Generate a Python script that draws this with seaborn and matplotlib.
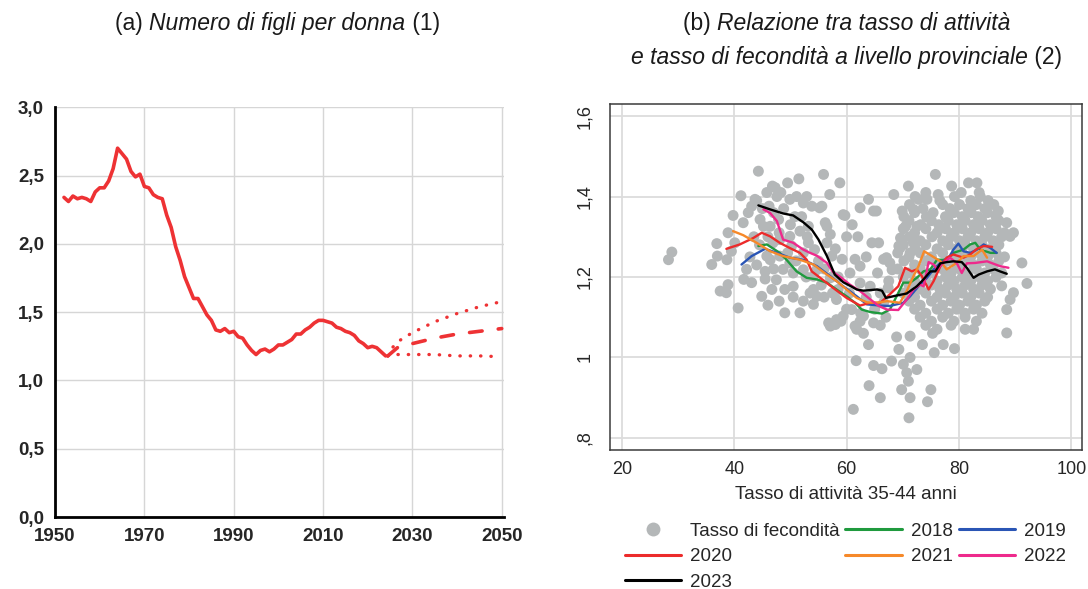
import numpy as np
import pandas as pd
import matplotlib
matplotlib.use("Agg")
import matplotlib.pyplot as plt
import seaborn as sns
from matplotlib.lines import Line2D
from matplotlib.offsetbox import TextArea, HPacker, VPacker, AnchoredOffsetbox

# ---- panel (a): figli per donna ----
anni_storici = [1952, 1953, 1954, 1955, 1956, 1957, 1958, 1959, 1960, 1961, 1962, 1963,
                1964, 1965, 1966, 1967, 1968, 1969, 1970, 1971, 1972, 1973, 1974, 1975,
                1976, 1977, 1978, 1979, 1980, 1981, 1982, 1983, 1984, 1985, 1986, 1987,
                1988, 1989, 1990, 1991, 1992, 1993, 1994, 1995, 1996, 1997, 1998, 1999,
                2000, 2001, 2002, 2003, 2004, 2005, 2006, 2007, 2008, 2009, 2010, 2011,
                2012, 2013, 2014, 2015, 2016, 2017, 2018, 2019, 2020, 2021, 2022, 2023, 2024]
figli_storici = [2.34, 2.31, 2.35, 2.33, 2.34, 2.33, 2.31, 2.38, 2.41, 2.41, 2.46, 2.55,
                 2.70, 2.66, 2.62, 2.53, 2.49, 2.51, 2.42, 2.41, 2.36, 2.34, 2.33, 2.21,
                 2.12, 1.98, 1.88, 1.76, 1.68, 1.60, 1.60, 1.54, 1.48, 1.44, 1.37, 1.36,
                 1.38, 1.35, 1.36, 1.32, 1.31, 1.26, 1.22, 1.19, 1.22, 1.23, 1.21, 1.23,
                 1.26, 1.26, 1.28, 1.30, 1.34, 1.34, 1.37, 1.39, 1.42, 1.44, 1.44, 1.43,
                 1.42, 1.39, 1.38, 1.36, 1.35, 1.33, 1.29, 1.27, 1.24, 1.25, 1.24, 1.21, 1.18]

anni_centrale = [2024.5, 2027, 2030, 2035, 2040, 2045, 2050]
figli_centrale = [1.18, 1.25, 1.27, 1.31, 1.34, 1.36, 1.38]
anni_alto = [2024.5, 2025.5, 2027, 2030, 2035, 2040, 2045, 2049]
figli_alto = [1.18, 1.24, 1.29, 1.35, 1.43, 1.49, 1.54, 1.57]
anni_basso = [2024.5, 2025.5, 2027, 2030, 2035, 2040, 2045, 2049]
figli_basso = [1.18, 1.19, 1.19, 1.19, 1.19, 1.18, 1.18, 1.175]

# ---- panel (b): tasso di fecondita' provinciale ----
fec_sinistra = [
    (28.3, 1.243), (28.9, 1.262), (36.0, 1.231), (36.9, 1.283), (37.0, 1.252), (37.5, 1.165),
    (38.6, 1.161), (38.7, 1.243), (38.9, 1.31), (38.9, 1.181), (39.5, 1.264), (39.8, 1.353),
    (40.1, 1.285), (40.7, 1.123), (41.2, 1.402), (41.6, 1.335), (41.7, 1.194), (42.2, 1.219),
    (43.1, 1.186), (43.1, 1.376), (43.7, 1.393), (44.3, 1.463), (44.6, 1.343), (44.9, 1.152),
    (45.2, 1.326), (45.5, 1.214), (45.5, 1.195), (45.8, 1.41), (45.8, 1.252), (46.2, 1.376),
    (46.4, 1.243), (46.7, 1.169), (46.8, 1.426), (46.4, 1.326), (46.9, 1.285), (47.3, 1.422),
    (47.5, 1.193), (47.6, 1.40), (47.9, 1.343), (48.1, 1.293), (48.1, 1.252), (48.3, 1.41),
    (48.7, 1.219), (49.0, 1.169), (49.0, 1.111), (49.5, 1.434), (49.9, 1.393), (49.9, 1.301),
    (49.9, 1.235), (50.2, 1.277), (50.5, 1.21), (50.5, 1.177), (51.1, 1.40), (51.5, 1.444),
    (51.7, 1.314), (51.7, 1.111), (52.3, 1.384), (52.3, 1.26), (52.3, 1.218), (52.3, 1.14),
    (52.9, 1.40), (53.2, 1.326), (53.2, 1.285), (53.8, 1.376), (54.1, 1.202), (54.1, 1.132),
    (54.1, 1.169), (54.3, 1.268), (54.7, 1.152), (54.7, 1.218), (55.2, 1.372), (55.6, 1.376),
    (55.9, 1.455), (56.2, 1.335), (56.5, 1.326), (56.5, 1.285), (56.8, 1.086), (57.0, 1.405),
    (57.1, 1.306), (57.1, 1.198), (57.1, 1.078), (57.4, 1.252), (57.6, 1.202), (58.0, 1.082),
    (58.2, 1.144), (58.2, 1.094), (42.5, 1.36), (44.0, 1.39), (45.0, 1.37), (47.0, 1.36),
    (48.8, 1.37), (50.8, 1.35), (43.5, 1.30), (44.5, 1.28), (46.0, 1.30), (48.0, 1.31),
    (50.0, 1.33), (52.0, 1.35), (53.0, 1.30), (42.8, 1.25), (44.0, 1.23), (47.0, 1.22),
    (49.5, 1.26), (51.0, 1.24), (52.8, 1.20), (55.0, 1.24), (56.0, 1.22), (55.5, 1.18),
    (53.5, 1.16), (50.5, 1.15), (48.0, 1.14), (46.0, 1.13), (56.0, 1.15), (57.5, 1.16),
]
fec_centro = [
    (58.5, 1.169), (58.8, 1.434), (59.2, 1.244), (59.4, 1.355), (59.4, 1.103), (59.7, 1.353),
    (60.6, 1.21), (60.9, 1.119), (61.2, 0.871), (61.5, 1.244), (61.5, 1.078), (61.7, 0.992),
    (61.8, 1.07), (62.4, 1.227), (62.4, 1.372), (62.4, 1.185), (62.4, 1.09), (63.0, 1.103),
    (63.9, 1.393), (63.9, 1.032), (64.0, 0.93), (64.2, 1.177), (64.5, 1.285), (64.8, 1.364),
    (64.8, 1.086), (64.8, 0.98), (65.3, 1.364), (65.7, 1.285), (66.0, 0.90), (66.3, 0.972),
    (66.6, 1.136), (66.6, 1.244), (67.1, 1.248), (67.4, 1.173), (67.7, 1.235), (68.0, 0.991),
    (68.1, 1.218), (68.4, 1.405), (60.0, 1.12), (62.5, 1.11), (65.0, 1.12), (67.0, 1.10),
    (63.0, 1.06), (66.0, 1.08), (59.0, 1.09), (60.5, 1.16), (63.5, 1.15), (58.5, 1.20),
    (60.0, 1.30), (62.0, 1.30), (61.0, 1.33), (58.0, 1.27), (63.5, 1.25), (65.5, 1.21),
    (67.5, 1.19), (66.0, 1.16),
]
fec_destra = [
    (68.9, 1.051), (69.3, 1.277), (69.3, 1.02), (69.5, 1.272), (69.6, 1.297), (69.8, 0.92),
    (69.9, 1.364), (70.1, 0.983), (70.5, 1.326), (70.7, 0.962), (71.0, 1.426), (71.0, 0.941),
    (71.1, 0.85), (71.3, 1.26), (71.3, 1.0), (71.3, 1.053), (71.3, 0.90), (71.9, 1.368),
    (71.9, 1.285), (72.5, 1.326), (72.5, 0.97), (72.8, 1.393), (73.5, 1.032), (74.3, 1.393),
    (74.4, 0.89), (75.0, 0.92), (75.3, 1.06), (75.6, 1.012), (75.8, 1.455), (76.3, 1.405),
    (77.2, 1.032), (78.7, 1.426), (79.2, 1.022), (81.7, 1.434), (82.6, 1.07), (83.2, 1.434),
    (83.8, 1.40), (87.0, 1.364), (88.5, 1.335), (88.5, 1.061), (88.5, 1.119), (89.1, 1.301),
    (89.1, 1.144), (89.7, 1.31), (89.7, 1.161), (91.2, 1.235), (92.1, 1.184), (87.6, 1.178),
    (72.2, 1.40), (74.1, 1.41), (76.6, 1.39), (79.2, 1.40), (80.4, 1.41), (82.1, 1.39), (83.6, 1.41), (85.2, 1.39),
    (71.2, 1.38), (73.6, 1.37), (77.1, 1.38), (78.4, 1.37), (80.1, 1.38), (81.6, 1.37), (83.1, 1.38), (84.6, 1.37), (86.2, 1.38),
    (70.2, 1.35), (72.1, 1.36), (74.2, 1.35), (75.4, 1.36), (77.6, 1.35), (79.1, 1.36), (80.6, 1.35), (82.2, 1.36), (83.4, 1.35), (85.1, 1.36), (86.6, 1.35),
    (71.1, 1.34), (73.2, 1.33), (75.1, 1.34), (76.4, 1.33), (78.1, 1.34), (79.6, 1.33), (81.1, 1.34), (82.6, 1.33), (84.1, 1.34), (85.6, 1.33), (87.1, 1.34),
    (70.1, 1.32), (72.1, 1.31), (74.1, 1.32), (76.1, 1.31), (77.6, 1.32), (79.1, 1.31), (80.6, 1.32), (82.1, 1.31), (83.6, 1.32), (85.1, 1.31), (86.6, 1.32), (88.1, 1.31),
    (71.2, 1.30), (73.1, 1.29), (75.2, 1.30), (77.1, 1.29), (78.6, 1.30), (80.1, 1.29), (81.6, 1.30), (83.1, 1.29), (84.6, 1.30), (86.1, 1.29), (87.6, 1.30),
    (70.1, 1.28), (72.2, 1.27), (74.1, 1.28), (76.1, 1.27), (78.1, 1.28), (79.6, 1.27), (81.1, 1.28), (82.6, 1.27), (84.1, 1.28), (85.6, 1.27), (87.1, 1.28),
    (69.1, 1.26), (71.1, 1.25), (73.1, 1.26), (75.1, 1.25), (77.1, 1.26), (79.1, 1.25), (80.6, 1.26), (82.1, 1.25), (83.6, 1.26), (85.1, 1.25), (86.6, 1.26), (88.1, 1.25),
    (70.2, 1.24), (72.1, 1.23), (74.1, 1.24), (76.1, 1.23), (78.1, 1.24), (79.6, 1.23), (81.1, 1.24), (82.6, 1.23), (84.1, 1.24), (85.6, 1.23), (87.1, 1.24),
    (69.1, 1.22), (71.1, 1.21), (73.1, 1.22), (75.1, 1.21), (77.1, 1.22), (78.6, 1.21), (80.1, 1.22), (81.6, 1.21), (83.1, 1.22), (84.6, 1.21), (86.1, 1.22), (87.6, 1.21),
    (70.1, 1.20), (72.1, 1.19), (74.1, 1.20), (76.1, 1.19), (77.6, 1.20), (79.1, 1.19), (80.6, 1.20), (82.1, 1.19), (83.6, 1.20), (85.1, 1.19), (86.6, 1.20),
    (71.1, 1.18), (73.1, 1.17), (75.1, 1.18), (76.6, 1.17), (78.1, 1.18), (79.6, 1.17), (81.1, 1.18), (82.6, 1.17), (84.1, 1.18), (85.6, 1.17),
    (70.1, 1.16), (72.1, 1.15), (74.1, 1.16), (76.1, 1.15), (77.6, 1.16), (79.1, 1.15), (80.6, 1.16), (82.1, 1.15), (83.6, 1.16), (85.1, 1.15),
    (71.1, 1.14), (73.1, 1.13), (75.1, 1.14), (77.1, 1.13), (78.6, 1.14), (80.1, 1.13), (81.6, 1.14), (83.1, 1.13), (84.6, 1.14),
    (72.1, 1.12), (74.1, 1.11), (76.1, 1.12), (78.1, 1.11), (79.6, 1.12), (81.1, 1.11), (82.6, 1.12), (84.1, 1.11),
    (73.1, 1.10), (75.1, 1.09), (77.1, 1.10), (79.1, 1.09), (81.1, 1.10), (83.1, 1.09),
    (74.1, 1.08), (76.1, 1.07), (78.6, 1.08), (81.1, 1.07),
]

x_2018 = [44.3, 45.8, 48.1, 49.3, 51.1, 52.9, 54.7, 56.5, 58.2, 60.0, 61.5, 62.7, 64.2, 66.3,
          67.7, 68.9, 70.1, 71.3, 72.5, 73.7, 74.9, 76.1, 77.8, 79.0, 80.8, 82.0, 82.9, 83.8,
          85.6, 86.7]
y_2018 = [1.277, 1.281, 1.26, 1.243, 1.214, 1.198, 1.194, 1.186, 1.169, 1.152, 1.136, 1.119,
          1.113, 1.109, 1.119, 1.152, 1.186, 1.186, 1.198, 1.214, 1.219, 1.243, 1.243, 1.26,
          1.268, 1.281, 1.285, 1.268, 1.26, 1.26]
x_2019 = [41.3, 43.1, 45.5, 47.6, 49.9, 52.3, 54.7, 57.1, 59.4, 61.8, 63.6, 66.0, 67.7, 70.1,
          71.3, 72.8, 74.3, 75.5, 76.7, 78.4, 79.0, 79.9, 80.8, 82.0, 83.2, 84.4, 85.6, 86.7]
y_2019 = [1.231, 1.252, 1.27, 1.26, 1.248, 1.243, 1.227, 1.202, 1.177, 1.152, 1.132, 1.129,
          1.128, 1.136, 1.152, 1.177, 1.198, 1.219, 1.235, 1.252, 1.268, 1.283, 1.264, 1.26,
          1.268, 1.281, 1.272, 1.26]
x_2020 = [38.6, 41.0, 43.4, 44.9, 46.4, 48.1, 49.9, 51.7, 52.9, 53.8, 55.3, 57.6, 60.0, 62.4,
          64.2, 66.0, 67.7, 69.2, 70.4, 71.6, 72.5, 73.4, 74.6, 75.5, 76.7, 77.8, 79.0, 80.8,
          82.0, 83.2, 84.4, 85.9]
y_2020 = [1.27, 1.281, 1.297, 1.31, 1.301, 1.285, 1.272, 1.26, 1.243, 1.214, 1.198, 1.173,
          1.148, 1.129, 1.136, 1.136, 1.157, 1.177, 1.223, 1.214, 1.219, 1.202, 1.169, 1.19,
          1.227, 1.248, 1.256, 1.248, 1.256, 1.27, 1.277, 1.275]
x_2021 = [39.8, 41.6, 44.0, 46.4, 48.7, 51.7, 54.1, 56.5, 58.2, 60.0, 61.8, 63.6, 65.4, 67.2,
          69.5, 70.7, 71.9, 72.8, 73.8, 75.2, 76.7, 77.8, 79.6, 80.8, 82.6, 84.1, 85.0]
y_2021 = [1.314, 1.304, 1.285, 1.264, 1.252, 1.243, 1.231, 1.206, 1.19, 1.169, 1.148, 1.137,
          1.136, 1.14, 1.136, 1.165, 1.202, 1.227, 1.264, 1.252, 1.239, 1.219, 1.235, 1.252,
          1.252, 1.268, 1.248]
x_2022 = [45.2, 46.4, 47.6, 48.7, 50.5, 52.3, 53.5, 54.7, 56.5, 57.6, 59.1, 60.6, 62.4, 63.9,
          65.7, 67.2, 69.2, 70.7, 71.9, 73.1, 73.7, 74.6, 75.5, 76.1, 77.2, 78.4, 79.6, 80.5,
          81.4, 82.9, 85.0, 87.3, 88.8]
y_2022 = [1.368, 1.359, 1.339, 1.293, 1.285, 1.268, 1.26, 1.253, 1.235, 1.212, 1.198, 1.181,
          1.165, 1.148, 1.128, 1.119, 1.118, 1.144, 1.169, 1.181, 1.177, 1.237, 1.231, 1.219,
          1.235, 1.248, 1.235, 1.21, 1.234, 1.235, 1.239, 1.227, 1.223]
x_2023 = [44.3, 46.4, 48.7, 50.5, 52.3, 53.8, 55.0, 56.5, 57.9, 59.4, 60.9, 61.8, 63.0, 65.4,
          66.3, 67.0, 68.9, 70.7, 72.5, 73.7, 74.9, 75.8, 76.7, 77.8, 79.0, 80.5, 81.4, 82.6,
          83.5, 85.0, 86.4, 87.3, 88.5]
y_2023 = [1.378, 1.368, 1.358, 1.353, 1.336, 1.318, 1.293, 1.252, 1.206, 1.187, 1.176, 1.169,
          1.166, 1.169, 1.166, 1.148, 1.154, 1.159, 1.177, 1.194, 1.214, 1.214, 1.234, 1.237,
          1.239, 1.237, 1.223, 1.198, 1.206, 1.214, 1.219, 1.214, 1.208]

anni_curve = ["2018", "2019", "2020", "2021", "2022", "2023"]
colori_curve = ["#1f9a3e", "#2a55b5", "#ec2b2b", "#f6892a", "#ee2a8c", "#000000"]

# ---- style ----
sns.set_theme(style="white")
plt.rcParams["font.family"] = ["Liberation Sans", "DejaVu Sans"]
ROSSO = "#ee3234"
GRIGIO = "#b4b7b8"

fig = plt.figure(figsize=(10.88, 5.89), dpi=100)

# ================= (a) =================
ax1 = fig.add_axes([0.0506, 0.122, 0.4126, 0.696])
sns.lineplot(x=anni_storici, y=figli_storici, ax=ax1, color=ROSSO, lw=2.6,
             estimator=None, sort=False)
sns.lineplot(x=anni_centrale, y=figli_centrale, ax=ax1, color=ROSSO, lw=2.6,
             estimator=None, sort=False)
ax1.lines[-1].set_dashes((3.5, 4.5))
ax1.lines[-1].set_dash_capstyle("round")
for xs, ys in [(anni_alto, figli_alto), (anni_basso, figli_basso)]:
    sns.lineplot(x=xs, y=ys, ax=ax1, color=ROSSO, lw=2.4, estimator=None, sort=False)
    ax1.lines[-1].set_dashes((0.1, 3.0))
    ax1.lines[-1].set_dash_capstyle("round")

ax1.set_xlim(1950, 2050.5)
ax1.set_ylim(0, 3.0)
ax1.set_xticks([1950, 1970, 1990, 2010, 2030, 2050])
ax1.set_yticks([0, 0.5, 1.0, 1.5, 2.0, 2.5, 3.0])
ax1.set_yticklabels([f"{v:.1f}".replace(".", ",") for v in [0, 0.5, 1.0, 1.5, 2.0, 2.5, 3.0]])
ax1.grid(True, color="#d6d6d6", lw=1.0)
ax1.set_axisbelow(True)
for s in ["top", "right"]:
    ax1.spines[s].set_visible(False)
for s in ["left", "bottom"]:
    ax1.spines[s].set_color("black")
    ax1.spines[s].set_linewidth(2.0)
ax1.tick_params(axis="both", direction="out", length=4, width=1.5, color="black",
                labelsize=13.5, pad=4)
for lab in ax1.get_xticklabels() + ax1.get_yticklabels():
    lab.set_fontweight("bold")
ax1.set_xlabel("")
ax1.set_ylabel("")

# ================= (b) =================
ax2 = fig.add_axes([0.5607, 0.236, 0.4338, 0.5874])
punti = pd.DataFrame(fec_sinistra + fec_centro + fec_destra, columns=["attivita", "fecondita"])
sns.scatterplot(data=punti, x="attivita", y="fecondita", ax=ax2, color=GRIGIO, s=62,
                edgecolor="none", linewidth=0, legend=False, zorder=2)

curve = pd.concat([
    pd.DataFrame({"attivita": xs, "fecondita": ys, "anno": a})
    for a, xs, ys in zip(anni_curve,
                         [x_2018, x_2019, x_2020, x_2021, x_2022, x_2023],
                         [y_2018, y_2019, y_2020, y_2021, y_2022, y_2023])
])
sns.lineplot(data=curve, x="attivita", y="fecondita", hue="anno", ax=ax2,
             palette=dict(zip(anni_curve, colori_curve)), estimator=None, sort=False,
             lw=1.7, legend=False, zorder=3)

ax2.set_xlim(17.9, 101.9)
ax2.set_ylim(0.77, 1.63)
ax2.set_xticks([20, 40, 60, 80, 100])
ax2.set_yticks([0.8, 1.0, 1.2, 1.4, 1.6])
ax2.set_yticklabels([",8", "1", "1,2", "1,4", "1,6"], rotation=90, va="center")
ax2.grid(True, color="#dcdcdc", lw=1.3)
ax2.set_axisbelow(True)
for s in ax2.spines.values():
    s.set_color("#3a3a3a")
    s.set_linewidth(1.1)
ax2.tick_params(axis="both", direction="out", length=5, width=1.0, color="#555555",
                labelsize=13, pad=3)
ax2.tick_params(axis="y", pad=7)
ax2.set_xlabel("Tasso di attività 35-44 anni", fontsize=13.5, labelpad=6)
ax2.set_ylabel("")

maniglie = [Line2D([], [], marker="o", ls="none", color=GRIGIO, markersize=10,
                   markeredgewidth=0, label="Tasso di fecondità")]
maniglie += [Line2D([], [], color=c, lw=2.2, label=a) for a, c in zip(anni_curve, colori_curve)]
ordine = [0, 3, 6, 1, 4, 2, 5]
fig.legend(handles=[maniglie[i] for i in ordine], loc="upper left",
           bbox_to_anchor=(0.574, 0.113), ncol=3, frameon=False, fontsize=13.5,
           handlelength=3.0, handletextpad=0.5, columnspacing=0.3, labelspacing=0.45,
           borderpad=0, borderaxespad=0)


# ---- titles with mixed italic ----
def titolo(righe, x, y):
    linee = []
    for parti in righe:
        figli = [TextArea(t, textprops=dict(fontsize=16.5, fontstyle=st, color="#1a1a1a"))
                 for t, st in parti]
        linee.append(HPacker(children=figli, pad=0, sep=0, align="baseline"))
    box = VPacker(children=linee, pad=0, sep=8, align="center")
    ab = AnchoredOffsetbox(loc="upper center", child=box, pad=0, borderpad=0, frameon=False,
                           bbox_to_anchor=(x, y), bbox_transform=fig.transFigure)
    fig.add_artist(ab)


titolo([[("(a) ", "normal"), ("Numero di figli per donna", "italic"), (" (1)", "normal")]],
       0.255, 0.98)
titolo([[("(b) ", "normal"), ("Relazione tra tasso di attività", "italic")],
        [("e tasso di fecondità a livello provinciale", "italic"), (" (2)", "normal")]],
       0.778, 0.98)

fig.savefig("out.png", dpi=100)
